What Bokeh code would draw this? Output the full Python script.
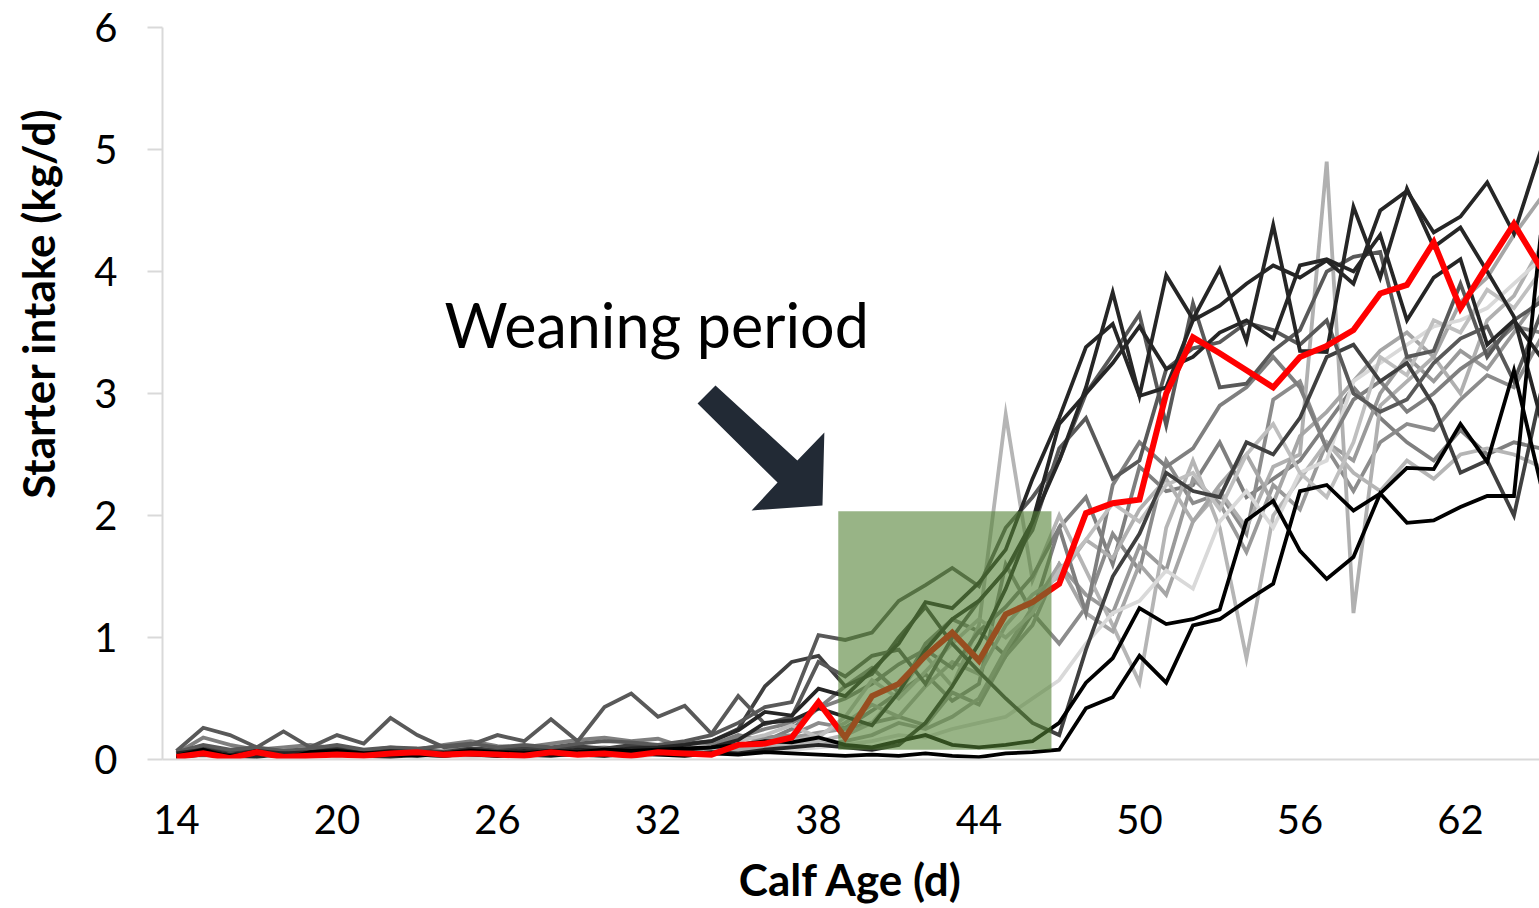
from bokeh.plotting import figure
from bokeh.models import FixedTicker, PolyAnnotation, BoxAnnotation, Label, Range1d, Title
from bokeh.embed import file_html
from bokeh.resources import INLINE

# ---------------- data ----------------
days = list(range(14, 66))
x_ticks = [14, 20, 26, 32, 38, 44, 50, 56, 62]
y_ticks = [0, 1, 2, 3, 4, 5, 6]

red_calf = [0.02, 0.05, 0.01, 0.06, 0.02, 0.03, 0.04, 0.03, 0.05, 0.06, 0.04, 0.05, 0.04,
            0.03, 0.06, 0.04, 0.05, 0.03, 0.06, 0.05, 0.04, 0.12, 0.13, 0.18, 0.47, 0.18,
            0.52, 0.62, 0.85, 1.04, 0.81, 1.19, 1.29, 1.44, 2.02, 2.10, 2.13, 3.00, 3.46,
            3.33, 3.19, 3.05, 3.30, 3.39, 3.52, 3.82, 3.89, 4.24, 3.70, 4.05, 4.39, 4.03]

calf_01 = [0.05, 0.08, 0.04, 0.07, 0.05, 0.06, 0.08, 0.05, 0.07, 0.06, 0.05, 0.08, 0.06,
           0.07, 0.06, 0.08, 0.07, 0.09, 0.10, 0.12, 0.15, 0.24, 0.39, 0.36, 0.58, 0.52,
           0.73, 0.95, 1.29, 1.24, 1.45, 1.72, 2.30, 2.80, 3.38, 3.57, 2.98, 3.05, 3.60,
           3.72, 3.90, 4.05, 3.95, 4.09, 3.90, 4.50, 4.66, 4.32, 4.45, 4.73, 4.31, 4.99]
calf_02 = [0.03, 0.05, 0.02, 0.04, 0.03, 0.05, 0.04, 0.03, 0.06, 0.04, 0.03, 0.05, 0.04,
           0.05, 0.04, 0.06, 0.05, 0.07, 0.06, 0.08, 0.10, 0.16, 0.30, 0.32, 0.42, 0.35,
           0.28, 0.55, 0.90, 1.15, 1.30, 1.55, 1.95, 2.45, 3.05, 3.83, 2.98, 3.97, 3.61,
           4.02, 3.43, 4.38, 3.35, 3.34, 4.53, 3.95, 4.68, 4.20, 4.36, 4.00, 3.63, 2.80]
calf_03 = [0.06, 0.12, 0.08, 0.10, 0.07, 0.09, 0.12, 0.08, 0.10, 0.09, 0.11, 0.13, 0.10,
           0.12, 0.10, 0.13, 0.15, 0.14, 0.12, 0.15, 0.20, 0.30, 0.43, 0.47, 1.02, 0.98,
           1.04, 1.30, 1.43, 1.57, 1.42, 1.90, 2.15, 2.45, 3.00, 3.32, 3.65, 2.74, 3.74,
           3.05, 3.08, 3.35, 3.52, 4.00, 4.12, 4.16, 3.30, 3.35, 3.90, 3.30, 3.60, 3.75]
calf_04 = [0.07, 0.26, 0.20, 0.10, 0.23, 0.10, 0.20, 0.13, 0.34, 0.20, 0.10, 0.12, 0.20,
           0.15, 0.33, 0.15, 0.43, 0.54, 0.35, 0.44, 0.21, 0.52, 0.29, 0.35, 0.80, 0.68,
           0.85, 0.90, 0.62, 1.00, 1.30, 1.55, 1.88, 2.55, 2.80, 2.30, 2.45, 3.20, 3.37,
           3.42, 3.58, 3.52, 3.40, 3.60, 3.00, 2.85, 2.95, 3.25, 3.45, 3.55, 3.10, 3.65]
calf_05 = [0.05, 0.18, 0.12, 0.08, 0.10, 0.12, 0.09, 0.07, 0.10, 0.08, 0.12, 0.15, 0.11,
           0.10, 0.13, 0.16, 0.18, 0.15, 0.17, 0.10, 0.12, 0.20, 0.15, 0.25, 0.42, 0.60,
           0.75, 0.55, 0.95, 1.15, 1.05, 0.85, 1.20, 1.90, 2.15, 1.60, 2.40, 2.20, 2.25,
           2.60, 2.15, 2.30, 2.45, 2.75, 3.05, 2.80, 2.60, 2.45, 2.70, 2.50, 2.60, 2.55]
calf_06 = [0.04, 0.10, 0.06, 0.05, 0.08, 0.06, 0.07, 0.05, 0.08, 0.06, 0.07, 0.09, 0.07,
           0.08, 0.07, 0.09, 0.10, 0.08, 0.10, 0.12, 0.14, 0.10, 0.18, 0.20, 0.30, 0.26,
           0.40, 0.55, 0.70, 0.48, 0.62, 1.60, 1.20, 0.95, 1.25, 1.85, 1.55, 2.45, 2.10,
           2.18, 1.85, 2.95, 3.10, 2.55, 2.20, 2.60, 2.75, 2.70, 2.95, 3.15, 3.05, 3.45]
calf_07 = [0.03, 0.06, 0.04, 0.05, 0.03, 0.05, 0.06, 0.04, 0.05, 0.04, 0.06, 0.05, 0.04,
           0.06, 0.05, 0.07, 0.06, 0.08, 0.07, 0.09, 0.11, 0.12, 0.15, 0.18, 0.22, 0.25,
           0.30, 0.35, 0.28, 0.55, 0.45, 0.85, 1.10, 1.60, 1.35, 1.20, 1.75, 1.55, 2.30,
           2.10, 1.70, 2.25, 2.05, 2.60, 2.45, 3.00, 3.30, 3.10, 3.35, 3.20, 3.50, 3.80]
calf_08 = [0.04, 0.07, 0.05, 0.06, 0.04, 0.06, 0.05, 0.07, 0.05, 0.06, 0.04, 0.06, 0.05,
           0.06, 0.05, 0.07, 0.06, 0.07, 0.06, 0.08, 0.07, 0.10, 0.12, 0.15, 0.20, 0.30,
           0.45, 0.35, 0.60, 0.80, 0.70, 1.10, 1.35, 1.50, 1.80, 1.65, 2.05, 2.30, 1.95,
           2.20, 1.90, 2.40, 2.50, 4.90, 1.20, 2.90, 3.10, 3.30, 3.00, 3.60, 3.80, 4.20]
calf_09 = [0.02, 0.04, 0.03, 0.05, 0.03, 0.04, 0.03, 0.05, 0.04, 0.03, 0.05, 0.04, 0.03,
           0.04, 0.05, 0.04, 0.06, 0.05, 0.06, 0.05, 0.07, 0.08, 0.10, 0.12, 0.15, 0.20,
           0.30, 0.55, 0.85, 0.60, 1.10, 2.83, 1.47, 2.00, 1.55, 1.10, 0.63, 1.90, 2.45,
           1.90, 0.83, 2.00, 2.30, 2.60, 2.35, 2.20, 2.45, 2.30, 2.50, 2.55, 2.50, 2.40]
calf_10 = [0.03, 0.05, 0.04, 0.03, 0.06, 0.04, 0.05, 0.04, 0.06, 0.05, 0.04, 0.05, 0.06,
           0.05, 0.06, 0.05, 0.07, 0.06, 0.05, 0.07, 0.06, 0.08, 0.09, 0.10, 0.12, 0.15,
           0.20, 0.30, 0.25, 0.35, 0.50, 0.90, 1.25, 1.60, 1.20, 1.05, 1.60, 1.35, 1.95,
           2.25, 2.50, 2.10, 2.65, 2.85, 3.10, 3.35, 3.50, 3.30, 3.75, 3.95, 4.30, 4.60]
calf_11 = [0.02, 0.03, 0.02, 0.04, 0.02, 0.03, 0.02, 0.03, 0.04, 0.02, 0.03, 0.02, 0.03,
           0.02, 0.03, 0.04, 0.03, 0.02, 0.04, 0.03, 0.05, 0.04, 0.06, 0.08, 0.10, 0.12,
           0.15, 0.20, 0.18, 0.25, 0.30, 0.35, 0.50, 0.65, 0.95, 1.20, 1.30, 1.55, 1.40,
           1.95, 2.20, 1.90, 2.35, 2.45, 3.10, 3.25, 3.40, 3.55, 3.60, 3.70, 3.90, 4.10]
calf_12 = [0.04, 0.06, 0.05, 0.04, 0.07, 0.05, 0.06, 0.05, 0.04, 0.06, 0.05, 0.07, 0.05,
           0.06, 0.08, 0.07, 0.09, 0.08, 0.10, 0.09, 0.12, 0.18, 0.25, 0.30, 0.42, 0.50,
           0.62, 0.78, 0.90, 0.75, 1.05, 1.25, 1.50, 1.90, 1.20, 2.25, 2.60, 2.40, 2.55,
           2.90, 3.05, 3.30, 3.05, 2.55, 2.95, 3.10, 2.85, 3.00, 3.20, 3.35, 3.55, 3.50]
calf_13 = [0.05, 0.09, 0.06, 0.08, 0.05, 0.07, 0.09, 0.06, 0.08, 0.07, 0.05, 0.08, 0.07,
           0.09, 0.07, 0.10, 0.08, 0.11, 0.09, 0.12, 0.10, 0.15, 0.20, 0.28, 0.18, 0.35,
           0.65, 0.50, 0.72, 0.95, 1.15, 1.00, 1.20, 1.55, 1.80, 2.10, 1.95, 2.25, 2.35,
           2.05, 2.50, 2.75, 2.35, 2.15, 2.60, 3.30, 3.15, 3.60, 3.50, 3.85, 3.70, 4.00]
calf_14 = [0.06, 0.10, 0.07, 0.09, 0.06, 0.08, 0.10, 0.07, 0.09, 0.08, 0.06, 0.09, 0.08,
           0.10, 0.08, 0.11, 0.09, 0.12, 0.10, 0.13, 0.15, 0.25, 0.60, 0.80, 0.85, 0.60,
           0.70, 1.00, 1.25, 0.95, 0.72, 0.50, 0.30, 0.20, 0.90, 1.50, 1.85, 2.35, 2.20,
           2.15, 2.60, 2.50, 2.80, 3.30, 3.40, 3.10, 3.25, 2.90, 2.35, 2.45, 2.00, 3.00]
calf_15 = [0.02, 0.04, 0.03, 0.02, 0.05, 0.03, 0.04, 0.03, 0.02, 0.04, 0.03, 0.05, 0.03,
           0.04, 0.03, 0.05, 0.04, 0.06, 0.05, 0.04, 0.06, 0.05, 0.08, 0.10, 0.12, 0.10,
           0.08, 0.12, 0.30, 0.60, 0.95, 1.40, 1.95, 2.75, 3.00, 3.25, 3.55, 3.20, 3.30,
           3.50, 3.60, 3.45, 4.05, 4.10, 4.00, 4.30, 3.60, 3.95, 4.10, 3.40, 3.60, 3.30]
calf_16 = [0.01, 0.06, 0.03, 0.05, 0.02, 0.04, 0.05, 0.03, 0.04, 0.03, 0.05, 0.04, 0.03,
           0.05, 0.04, 0.04, 0.03, 0.05, 0.04, 0.03, 0.05, 0.04, 0.06, 0.05, 0.04, 0.03,
           0.04, 0.03, 0.05, 0.03, 0.02, 0.05, 0.06, 0.08, 0.42, 0.51, 0.85, 0.63, 1.10,
           1.15, 1.30, 1.44, 2.20, 2.25, 2.04, 2.18, 2.39, 2.38, 2.75, 2.44, 3.19, 2.26]
calf_17 = [0.03, 0.08, 0.02, 0.07, 0.01, 0.06, 0.07, 0.05, 0.06, 0.04, 0.05, 0.07, 0.06,
           0.05, 0.07, 0.06, 0.08, 0.07, 0.08, 0.09, 0.10, 0.12, 0.15, 0.14, 0.18, 0.12,
           0.10, 0.15, 0.20, 0.12, 0.10, 0.12, 0.15, 0.30, 0.63, 0.83, 1.24, 1.11, 1.15,
           1.23, 1.96, 2.12, 1.71, 1.48, 1.66, 2.18, 1.94, 1.96, 2.07, 2.16, 2.16, 4.30]

gray_series = [calf_05, calf_06, calf_07, calf_08, calf_09, calf_10, calf_11, calf_12,
               calf_13, calf_14, calf_04, calf_03, calf_15, calf_01, calf_02, calf_16, calf_17]
gray_colors = ["#7f7f7f", "#8c8c8c", "#9a9a9a", "#b0b0b0", "#b5b5b5", "#a6a6a6", "#d9d9d9",
               "#7f7f7f", "#bfbfbf", "#404040", "#595959", "#595959", "#262626", "#262626",
               "#262626", "#000000", "#000000"]

# ---------------- figure ----------------
FONT = "Lato"
p = figure(width=1539, height=908, output_backend="svg", toolbar_location=None,
           x_range=Range1d(13.477, 64.955), y_range=Range1d(0, 6),
           min_border_left=162, min_border_right=0, min_border_top=27, min_border_bottom=149)
p.outline_line_color = None
p.grid.visible = False
p.background_fill_color = "white"

for vals, col in zip(gray_series, gray_colors):
    p.line(days, vals, line_color=col, line_width=3.8, line_join="miter")
p.line(days, red_calf, line_color="#ff0000", line_width=6, line_join="miter")

# weaning period box and arrow
p.add_layout(BoxAnnotation(left=38.74, right=46.71, bottom=0.08, top=2.035,
                           fill_color="#548235", fill_alpha=0.6, line_color=None))
arrow_xs = [34.15, 37.21, 38.22, 38.15, 35.50, 36.47, 33.48]
arrow_ys = [3.066, 2.451, 2.680, 2.082, 2.041, 2.270, 2.918]
p.add_layout(PolyAnnotation(xs=arrow_xs, ys=arrow_ys, fill_color="#222a35", fill_alpha=1.0,
                            line_color=None))
p.add_layout(Label(x=24.02, y=3.566, text="Weaning period", text_font=FONT,
                   text_font_size="61px", text_color="black", text_baseline="alphabetic"))

# y-axis title (placed toward the top, like the reference)
p.add_layout(Title(text="Starter intake (kg/d)", align="right", offset=81, standoff=16,
                   text_font=FONT, text_font_size="44px", text_font_style="bold",
                   text_color="black"), "left")

# axes
p.xaxis.ticker = FixedTicker(ticks=x_ticks)
p.yaxis.ticker = FixedTicker(ticks=y_ticks)
for ax in (p.xaxis[0], p.yaxis[0]):
    ax.axis_line_color = "#d9d9d9"
    ax.axis_line_width = 2
    ax.major_tick_line_color = "#d9d9d9"
    ax.major_tick_line_width = 2
    ax.minor_tick_line_color = None
    ax.major_label_text_font = FONT
    ax.major_label_text_font_size = "40px"
    ax.major_label_text_color = "black"
    ax.axis_label_text_font = FONT
    ax.axis_label_text_font_size = "44px"
    ax.axis_label_text_font_style = "bold"
    ax.axis_label_text_color = "black"
p.xaxis.major_tick_out = 0
p.xaxis.major_tick_in = 0
p.xaxis.major_label_standoff = 45
p.xaxis.axis_label = "Calf Age (d)"
p.xaxis.axis_label_standoff = 16
p.yaxis.major_tick_out = 15
p.yaxis.major_tick_in = 0
p.yaxis.major_label_standoff = 30
# blank spacer label keeps the title clear of the tick labels
p.yaxis.axis_label = " "
p.yaxis.axis_label_text_font_size = "10px"
p.yaxis.axis_label_standoff = 5

open("out.html", "w").write(file_html(p, INLINE))
